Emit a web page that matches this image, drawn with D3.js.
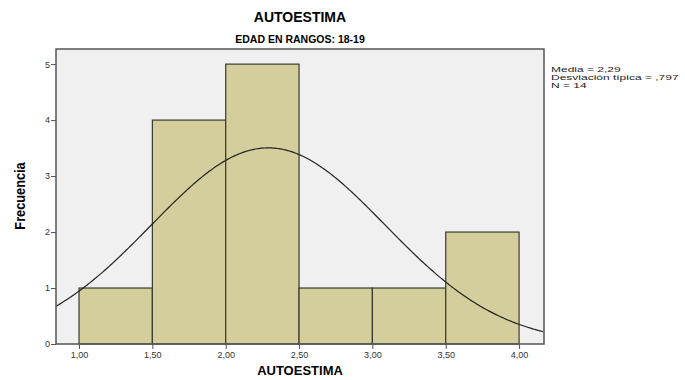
<!DOCTYPE html>
<html>
<head>
<meta charset="utf-8">
<script src="https://cdn.jsdelivr.net/npm/d3@7"></script>
<style>
  body { margin: 0; background: #fff; }
  text { font-family: "Liberation Sans", Arial, sans-serif; }
</style>
</head>
<body>
<div id="chart"></div>
<script>
// Datos del histograma
var binStarts = [1.0, 1.5, 2.0, 2.5, 3.0, 3.5];
var binWidth = 0.5;
var counts = [1, 4, 5, 1, 1, 2];
var xTicks = [1.0, 1.5, 2.0, 2.5, 3.0, 3.5, 4.0];
var yTicks = [0, 1, 2, 3, 4, 5];
var media = 2.29, desviacion = 0.797, n = 14;
var statsLines = ["Media = 2,29", "Desviación típica = ,797", "N = 14"];

var width = 685, height = 380;
var plot = { left: 56, right: 544, top: 49, bottom: 344 };

var svg = d3.select("#chart").append("svg")
    .attr("width", width).attr("height", height);

var x = d3.scaleLinear().domain([0.843, 4.17]).range([plot.left, plot.right]);
var y = d3.scaleLinear().domain([0, 5.27]).range([plot.bottom, plot.top]);

// Fondo del área
svg.append("rect")
    .attr("x", plot.left).attr("y", plot.top)
    .attr("width", plot.right - plot.left).attr("height", plot.bottom - plot.top)
    .attr("fill", "#f0f0f0");

// Barras
svg.selectAll("rect.bar")
    .data(binStarts)
    .join("rect")
    .attr("class", "bar")
    .attr("x", d => x(d))
    .attr("y", (d, i) => y(counts[i]))
    .attr("width", d => x(d + binWidth) - x(d))
    .attr("height", (d, i) => y(0) - y(counts[i]))
    .attr("fill", "#d3ce9b")
    .attr("stroke", "#3a3a30")
    .attr("stroke-width", 1.2);

// Curva normal
svg.append("clipPath").attr("id", "clip").append("rect")
    .attr("x", plot.left).attr("y", plot.top)
    .attr("width", plot.right - plot.left).attr("height", plot.bottom - plot.top);
var xs = d3.range(0.843, 4.171, 0.01);
var curve = xs.map(v => [v, n * binWidth / (desviacion * Math.sqrt(2 * Math.PI)) *
    Math.exp(-0.5 * Math.pow((v - media) / desviacion, 2))]);
svg.append("path")
    .datum(curve)
    .attr("clip-path", "url(#clip)")
    .attr("fill", "none")
    .attr("stroke", "#222")
    .attr("stroke-width", 1.2)
    .attr("d", d3.line().x(d => x(d[0])).y(d => y(d[1])));

// Borde
svg.append("rect")
    .attr("x", plot.left).attr("y", plot.top)
    .attr("width", plot.right - plot.left).attr("height", plot.bottom - plot.top)
    .attr("fill", "none").attr("stroke", "#555").attr("stroke-width", 1.5);

// Ejes
var yAxis = svg.append("g")
    .attr("transform", `translate(${plot.left},0)`)
    .call(d3.axisLeft(y).tickValues(yTicks).tickFormat(d3.format("d")).tickSize(5).tickSizeOuter(0));
var xAxis = svg.append("g")
    .attr("transform", `translate(0,${plot.bottom})`)
    .call(d3.axisBottom(x).tickValues(xTicks).tickFormat(d => d.toFixed(2).replace(".", ",")).tickSize(5).tickSizeOuter(0));
[xAxis, yAxis].forEach(a => {
    a.select(".domain").remove();
    a.selectAll(".tick line").attr("stroke", "#555");
    a.selectAll(".tick text").attr("fill", "#333").style("font-size", "9px");
});
yAxis.selectAll(".tick text").attr("x", -6);
xAxis.selectAll(".tick text").attr("y", 8);

// Títulos
svg.append("text")
    .attr("x", 300).attr("y", 22)
    .attr("text-anchor", "middle")
    .style("font-size", "14px").style("font-weight", "bold")
    .text("AUTOESTIMA");
svg.append("text")
    .attr("x", 300).attr("y", 43)
    .attr("text-anchor", "middle")
    .style("font-size", "10.5px").style("font-weight", "bold")
    .text("EDAD EN RANGOS: 18-19");
svg.append("text")
    .attr("x", 300).attr("y", 375)
    .attr("text-anchor", "middle")
    .style("font-size", "13px").style("font-weight", "bold")
    .text("AUTOESTIMA");
svg.append("text")
    .attr("transform", "translate(25, 196) rotate(-90) scale(0.85,1)")
    .attr("text-anchor", "middle")
    .style("font-size", "15px").style("font-weight", "bold")
    .text("Frecuencia");

// Estadísticos
svg.append("g")
    .attr("transform", "translate(551,0) scale(1.5,1)")
    .selectAll("text")
    .data(statsLines)
    .join("text")
    .attr("x", 0)
    .attr("y", (d, i) => 72 + i * 8)
    .style("font-size", "8px")
    .attr("fill", "#222")
    .text(d => d);
</script>
</body>
</html>
